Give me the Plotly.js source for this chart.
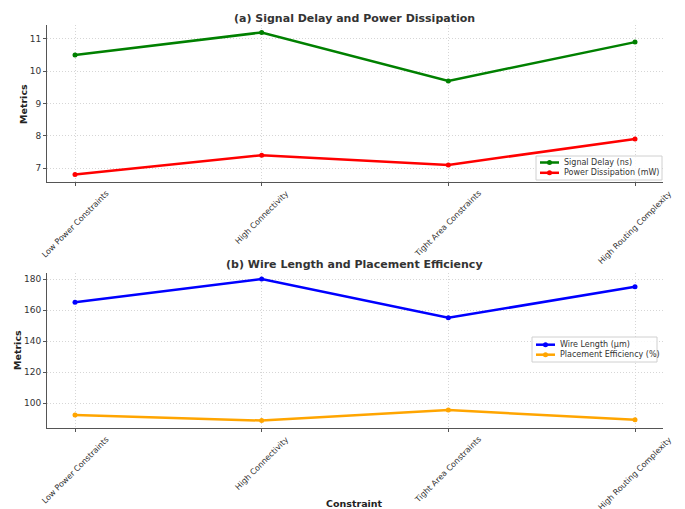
<!DOCTYPE html>
<html><head><meta charset="utf-8">
<script src="https://cdn.plot.ly/plotly-3.0.1.min.js"></script>
<style>html,body{margin:0;padding:0;background:#fff}#c{width:685px;height:509px}</style>
</head><body><div id="c"></div>
<script>
const categories = ["Low Power Constraints", "High Connectivity", "Tight Area Constraints", "High Routing Complexity"];
const signalDelay = [10.5, 11.2, 9.7, 10.9];
const powerDissipation = [6.8, 7.4, 7.1, 7.9];
const wireLength = [165, 180, 155, 175];
const placementEfficiency = [92.3, 88.7, 95.5, 89.2];

const W = 685, H = 509;
const px = x => x / W, py = y => 1 - y / H;
const idx = categories.map((_, i) => i);
function tr(y, name, color, xa, ya) {
  return {x: idx, y: y, name: name, type: 'scatter', mode: 'lines+markers',
    line: {color: color, width: 2.5}, marker: {color: color, size: 5},
    xaxis: xa, yaxis: ya, showlegend: false};
}
const series = [
  {y: signalDelay, name: 'Signal Delay (ns)', color: 'green', xa: 'x', ya: 'y'},
  {y: powerDissipation, name: 'Power Dissipation (mW)', color: 'red', xa: 'x', ya: 'y'},
  {y: wireLength, name: 'Wire Length (μm)', color: 'blue', xa: 'x2', ya: 'y2'},
  {y: placementEfficiency, name: 'Placement Efficiency (%)', color: 'orange', xa: 'x2', ya: 'y2'}
];
const data = series.map(s => tr(s.y, s.name, s.color, s.xa, s.ya));

const gridc = '#d6d6d6';
function xax(anchor) {
  return {domain: [px(47), px(663)], anchor: anchor, range: [-0.15, 3.15],
    tickvals: idx, showticklabels: false,
    showgrid: true, gridcolor: gridc, griddash: '1px,2px', gridwidth: 1,
    showline: true, linecolor: '#555', linewidth: 1, ticks: 'outside', ticklen: 3, tickcolor: '#555',
    zeroline: false};
}
function yax(anchor, dom, rng, dtick) {
  return {domain: dom, anchor: anchor, range: rng, dtick: dtick,
    tickfont: {size: 9, color: '#333'},
    showgrid: true, gridcolor: gridc, griddash: '1px,2px', gridwidth: 1,
    showline: true, linecolor: '#555', linewidth: 1, ticks: 'outside', ticklen: 3, tickcolor: '#555',
    zeroline: false};
}
const annotations = [];
const shapes = [];
function ann(text, x, y, opts) {
  annotations.push(Object.assign({text: text, xref: 'paper', yref: 'paper', x: x, y: y,
    showarrow: false, xanchor: 'center', yanchor: 'middle', font: {size: 8, color: '#333'}}, opts || {}));
}
// titles
ann('<b>(a) Signal Delay and Power Dissipation</b>', 0.518, py(18), {font: {size: 11, color: '#333'}});
ann('<b>(b) Wire Length and Placement Efficiency</b>', 0.518, py(264), {font: {size: 11, color: '#333'}});
ann('<b>Metrics</b>', px(24), py(104), {textangle: -90, font: {size: 9.5, color: '#222'}});
ann('<b>Metrics</b>', px(17), py(350), {textangle: -90, font: {size: 9.5, color: '#222'}});
ann('<b>Constraint</b>', 0.518, py(503), {font: {size: 9.5, color: '#222'}});
// rotated category labels, centred under ticks
[['x', 186], ['x2', 432]].forEach(([xr, yt]) => {
  categories.forEach((c, i) => {
    annotations.push({text: c, xref: xr, yref: 'paper', x: i, y: py(yt), showarrow: false,
      xanchor: 'center', yanchor: 'top', textangle: -45, font: {size: 8, color: '#333'}});
  });
});
// legends
function legend(x0, y0, x1, y1, items) {
  shapes.push({type: 'rect', xref: 'paper', yref: 'paper', x0: px(x0), x1: px(x1), y0: py(y0), y1: py(y1),
    line: {color: '#d0d0d0', width: 1}, fillcolor: 'rgba(255,255,255,0.85)', layer: 'above'});
  items.forEach(it => {
    shapes.push({type: 'line', xref: 'paper', yref: 'paper', x0: px(x0 + 4), x1: px(x0 + 23),
      y0: py(it.y), y1: py(it.y), line: {color: it.color, width: 2.5}, layer: 'above'});
    const cx = x0 + 13.5;
    shapes.push({type: 'circle', xref: 'paper', yref: 'paper', x0: px(cx - 2.5), x1: px(cx + 2.5),
      y0: py(it.y - 2.5), y1: py(it.y + 2.5), line: {width: 0}, fillcolor: it.color, layer: 'above'});
    ann(it.name, px(x0 + 26), py(it.y), {xanchor: 'left', font: {size: 8, color: '#333'}});
  });
}
legend(536, 156, 662, 180, [{name: series[0].name, color: series[0].color, y: 162.5},
                            {name: series[1].name, color: series[1].color, y: 172.8}]);
legend(532, 337, 657, 362, [{name: series[2].name, color: series[2].color, y: 344.7},
                            {name: series[3].name, color: series[3].color, y: 354.7}]);

const layout = {
  width: W, height: H, margin: {l: 0, r: 0, t: 0, b: 0},
  paper_bgcolor: '#fff', plot_bgcolor: '#fff', font: {family: 'DejaVu Sans, sans-serif', color: '#333'},
  showlegend: false,
  xaxis: xax('y'),
  yaxis: yax('x', [py(182), py(25)], [6.57, 11.43], 1),
  xaxis2: xax('y2'),
  yaxis2: yax('x2', [py(428), py(273)], [83.9, 183.9], 20),
  annotations: annotations, shapes: shapes
};
Plotly.newPlot('c', data, layout, {displayModeBar: false, staticPlot: true});
</script></body></html>
